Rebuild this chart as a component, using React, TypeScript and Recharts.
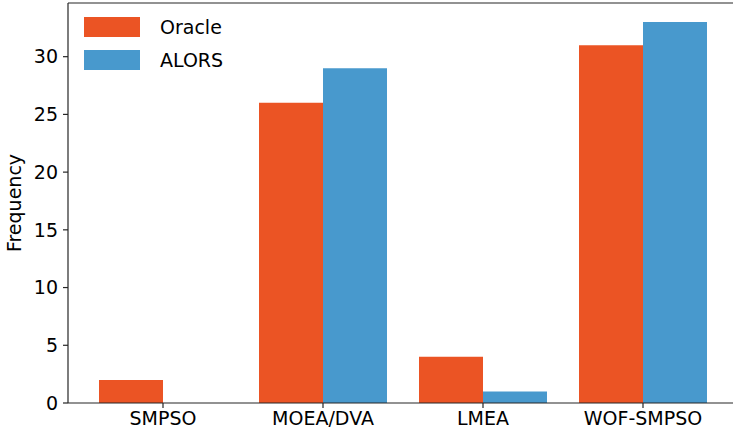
import { BarChart, Bar, XAxis, YAxis, Legend, ReferenceLine } from 'recharts'

const categories = ['SMPSO', 'MOEA/DVA', 'LMEA', 'WOF-SMPSO']
const oracleCounts = [2, 26, 4, 31]
const alorsCounts = [0, 29, 1, 33]
const yTicks = [0, 5, 10, 15, 20, 25, 30]

const ORACLE_COLOR = '#eb5424'
const ALORS_COLOR = '#4899cd'
const AXIS_COLOR = '#262626'
const FONT = 'DejaVu Sans, sans-serif'

// headroom above the tallest bar, like matplotlib's 5% margin
const Y_MAX = Math.max(...oracleCounts, ...alorsCounts) * 1.05

const data = categories.map((name, i) => ({
  name,
  Oracle: oracleCounts[i],
  ALORS: alorsCounts[i],
}))

const legendItems = [
  { label: 'Oracle', color: ORACLE_COLOR },
  { label: 'ALORS', color: ALORS_COLOR },
]

function LegendBox() {
  return (
    <div style={{ fontFamily: FONT, fontSize: 19, color: '#000' }}>
      {legendItems.map((item) => (
        <div key={item.label} style={{ display: 'flex', alignItems: 'center', height: 20, marginBottom: 13 }}>
          <span style={{ display: 'inline-block', width: 56, height: 20, background: item.color }} />
          <span style={{ marginLeft: 20, lineHeight: '20px' }}>{item.label}</span>
        </div>
      ))}
    </div>
  )
}

function FrequencyLabel() {
  return (
    <text
      x={14}
      y={203}
      transform="rotate(-90, 14, 203)"
      textAnchor="middle"
      dominantBaseline="central"
      fontFamily={FONT}
      fontSize={19}
      fill="#000"
    >
      Frequency
    </text>
  )
}

export default function App() {
  return (
    <div style={{ position: 'fixed', left: 0, top: 0, width: 733, height: 433, overflow: 'hidden', background: '#fff' }}>
      <BarChart
        width={740}
        height={433}
        data={data}
        margin={{ top: 3, right: 3, bottom: 0, left: 0 }}
        barGap={0}
      >
        <XAxis
          dataKey="name"
          height={30}
          padding={{ left: 15, right: 14 }}
          tickSize={5}
          tickMargin={4}
          tick={{ fontFamily: FONT, fontSize: 19, fill: '#000' }}
          axisLine={{ stroke: AXIS_COLOR, strokeWidth: 1.2 }}
          tickLine={{ stroke: AXIS_COLOR, strokeWidth: 1.2 }}
          interval={0}
        />
        <YAxis
          width={68}
          domain={[0, Y_MAX]}
          allowDataOverflow
          ticks={yTicks}
          tickSize={5}
          tickMargin={5}
          tick={{ fontFamily: FONT, fontSize: 19, fill: '#000' }}
          axisLine={{ stroke: AXIS_COLOR, strokeWidth: 1.2 }}
          tickLine={{ stroke: AXIS_COLOR, strokeWidth: 1.2 }}
          label={{ content: () => <FrequencyLabel /> }}
        />
        <ReferenceLine y={Y_MAX} stroke={AXIS_COLOR} strokeWidth={1.2} />
        <Legend
          layout="vertical"
          align="center"
          verticalAlign="middle"
          content={() => <LegendBox />}
          wrapperStyle={{ left: 84, top: 17, width: 'auto', height: 'auto' }}
        />
        <Bar dataKey="Oracle" fill={ORACLE_COLOR} barSize={64} isAnimationActive={false} />
        <Bar dataKey="ALORS" fill={ALORS_COLOR} barSize={64} isAnimationActive={false} />
      </BarChart>
    </div>
  )
}
